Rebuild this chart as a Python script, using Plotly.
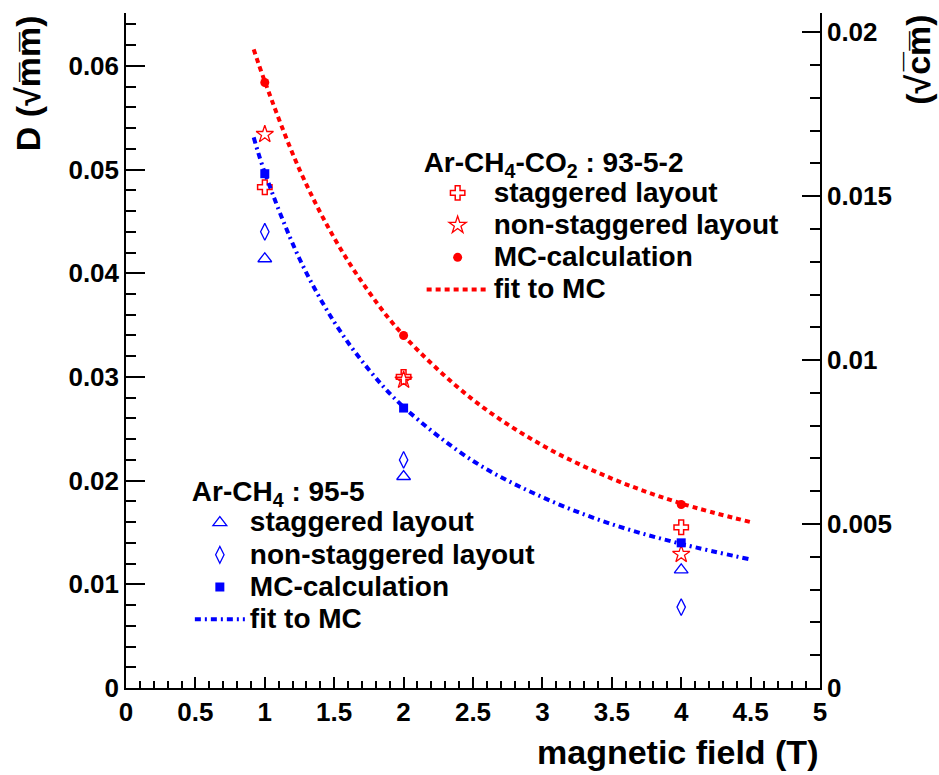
import plotly.graph_objects as go

# ---------------- data ----------------
B = [1, 2, 4]

# Ar-CH4-CO2 : 93-5-2 (red)
arco2_staggered = [0.0483, 0.0300, 0.0155]
arco2_nonstaggered = [0.0534, 0.0297, 0.0129]
arco2_mc = [0.0584, 0.0340, 0.0177]

# Ar-CH4 : 95-5 (blue)
arch4_staggered = [0.0414, 0.0204, 0.0114]
arch4_nonstaggered = [0.0440, 0.0220, 0.0078]
arch4_mc = [0.0496, 0.0270, 0.0140]

# fit curves
fit_B = [0.92, 1.0, 1.25, 1.5, 1.75, 2.0, 2.5, 3.0, 3.5, 4.0, 4.5]
arco2_fit = [0.0616, 0.0585, 0.0500, 0.0434, 0.0382, 0.0340, 0.0278, 0.0234, 0.0202, 0.0178, 0.0160]
arch4_fit = [0.0531, 0.0497, 0.0414, 0.0353, 0.0307, 0.0271, 0.0219, 0.0184, 0.0158, 0.0139, 0.0124]

x_ticks = [0, 0.5, 1, 1.5, 2, 2.5, 3, 3.5, 4, 4.5, 5]
x_ticklabels = ["0", "0.5", "1", "1.5", "2", "2.5", "3", "3.5", "4", "4.5", "5"]
y_ticks = [0, 0.01, 0.02, 0.03, 0.04, 0.05, 0.06]
y_ticklabels = ["0", "0.01", "0.02", "0.03", "0.04", "0.05", "0.06"]
y2_ticks = [0, 0.005, 0.01, 0.015, 0.02]
y2_ticklabels = ["0", "0.005", "0.01", "0.015", "0.02"]

legend_labels = ["staggered layout", "non-staggered layout", "MC-calculation", "fit to MC"]
title_arco2 = "Ar-CH<sub>4</sub>-CO<sub>2</sub> : 93-5-2"
title_arch4 = "Ar-CH<sub>4</sub> : 95-5"

Y_MAX = 0.0651          # sqrt(mm)
MM_TO_CM = 10 ** -0.5   # sqrt(mm) -> sqrt(cm)

RED = "#ff0000"
BLUE = "#0000ff"
FONT = "Liberation Sans"


def big(txt):
    return '<span style="font-size:28px">' + txt + '</span>'


fig = go.Figure()

# red group
fig.add_trace(go.Scatter(x=B, y=arco2_staggered, mode="markers", name=big(legend_labels[0]),
                         marker=dict(symbol="cross-open", size=12, color=RED, line=dict(width=1.5, color=RED)),
                         legend="legend"))
fig.add_trace(go.Scatter(x=B, y=arco2_nonstaggered, mode="markers", name=big(legend_labels[1]),
                         marker=dict(symbol="star-open", size=13, color=RED, line=dict(width=1.3, color=RED)),
                         legend="legend"))
fig.add_trace(go.Scatter(x=B, y=arco2_mc, mode="markers", name=big(legend_labels[2]),
                         marker=dict(symbol="circle", size=9, color=RED),
                         legend="legend"))
fig.add_trace(go.Scatter(x=fit_B, y=arco2_fit, mode="lines", name=big(legend_labels[3]), line_shape="spline",
                         line=dict(color=RED, width=4, dash="5px,4px"),
                         legend="legend"))

# blue group
fig.add_trace(go.Scatter(x=B, y=arch4_staggered, mode="markers", name=big(legend_labels[0]),
                         marker=dict(symbol="triangle-up-open", size=12, color=BLUE, line=dict(width=1.3, color=BLUE)),
                         legend="legend2"))
fig.add_trace(go.Scatter(x=B, y=arch4_nonstaggered, mode="markers", name=big(legend_labels[1]),
                         marker=dict(symbol="diamond-tall-open", size=12, color=BLUE, line=dict(width=1.3, color=BLUE)),
                         legend="legend2"))
fig.add_trace(go.Scatter(x=B, y=arch4_mc, mode="markers", name=big(legend_labels[2]),
                         marker=dict(symbol="square", size=9, color=BLUE),
                         legend="legend2"))
fig.add_trace(go.Scatter(x=fit_B, y=arch4_fit, mode="lines", name=big(legend_labels[3]), line_shape="spline",
                         line=dict(color=BLUE, width=4, dash="6px,4px,2px,4px"),
                         legend="legend2"))

# invisible trace to anchor the right axis
fig.add_trace(go.Scatter(x=[], y=[], yaxis="y2", showlegend=False, hoverinfo="skip"))

tickfont = dict(family=FONT, size=26, color="black", weight="bold")
axis_common = dict(showline=True, linecolor="black", linewidth=1.5, showgrid=False, zeroline=False,
                   ticks="inside", tickcolor="black", tickwidth=1.5, tickfont=tickfont)

legend_font = dict(family=FONT, size=22.5, color="black", weight="bold")
legend_title_font = dict(family=FONT, size=32, color="black", weight="bold")

fig.update_layout(
    width=939, height=775,
    margin=dict(l=126, r=119, t=13, b=87),
    plot_bgcolor="white", paper_bgcolor="white",
    xaxis=dict(range=[0, 5], tickvals=x_ticks, ticktext=x_ticklabels, ticklen=11,
               minor=dict(ticks="inside", ticklen=7, dtick=0.1, tick0=0, tickcolor="black", tickwidth=1.5, showgrid=False),
               **axis_common),
    yaxis=dict(range=[0, Y_MAX], tickvals=y_ticks, ticktext=y_ticklabels, ticklen=19,
               minor=dict(ticks="inside", ticklen=10, dtick=0.002, tick0=0, tickcolor="black", tickwidth=1.5, showgrid=False),
               **axis_common),
    yaxis2=dict(range=[0, Y_MAX * MM_TO_CM], overlaying="y", side="right", anchor="x",
                tickvals=y2_ticks, ticktext=y2_ticklabels, ticklen=18,
                minor=dict(ticks="inside", ticklen=10, dtick=0.001, tick0=0, tickcolor="black", tickwidth=1.5, showgrid=False),
                **axis_common),
    legend=dict(x=0.426, y=0.8265, xanchor="left", yanchor="top", bgcolor="rgba(0,0,0,0)",
                font=legend_font, itemwidth=62, tracegroupgap=0,
                title=dict(text=big(title_arco2), font=legend_title_font)),
    legend2=dict(x=0.092, y=0.338, xanchor="left", yanchor="top", bgcolor="rgba(0,0,0,0)",
                 font=legend_font, itemwidth=50, tracegroupgap=0,
                 title=dict(text=big(title_arch4), font=legend_title_font)),
    annotations=[
        dict(text="magnetic field (T)", xref="paper", yref="paper", x=1.0, y=-0.095,
             xanchor="right", yanchor="middle", showarrow=False,
             font=dict(family=FONT, size=34, color="black", weight="bold")),
        dict(text="D (\u221am\u0305m\u0305)", xref="paper", yref="paper", x=-0.141, y=1.0,
             xanchor="center", yanchor="top", textangle=-90, showarrow=False,
             font=dict(family=FONT, size=34, color="black", weight="bold")),
        dict(text="(\u221ac\u0305m\u0305)", xref="paper", yref="paper", x=1.141, y=1.0,
             xanchor="center", yanchor="top", textangle=-90, showarrow=False,
             font=dict(family=FONT, size=34, color="black", weight="bold")),
    ],
)

fig.write_html("out.html")
